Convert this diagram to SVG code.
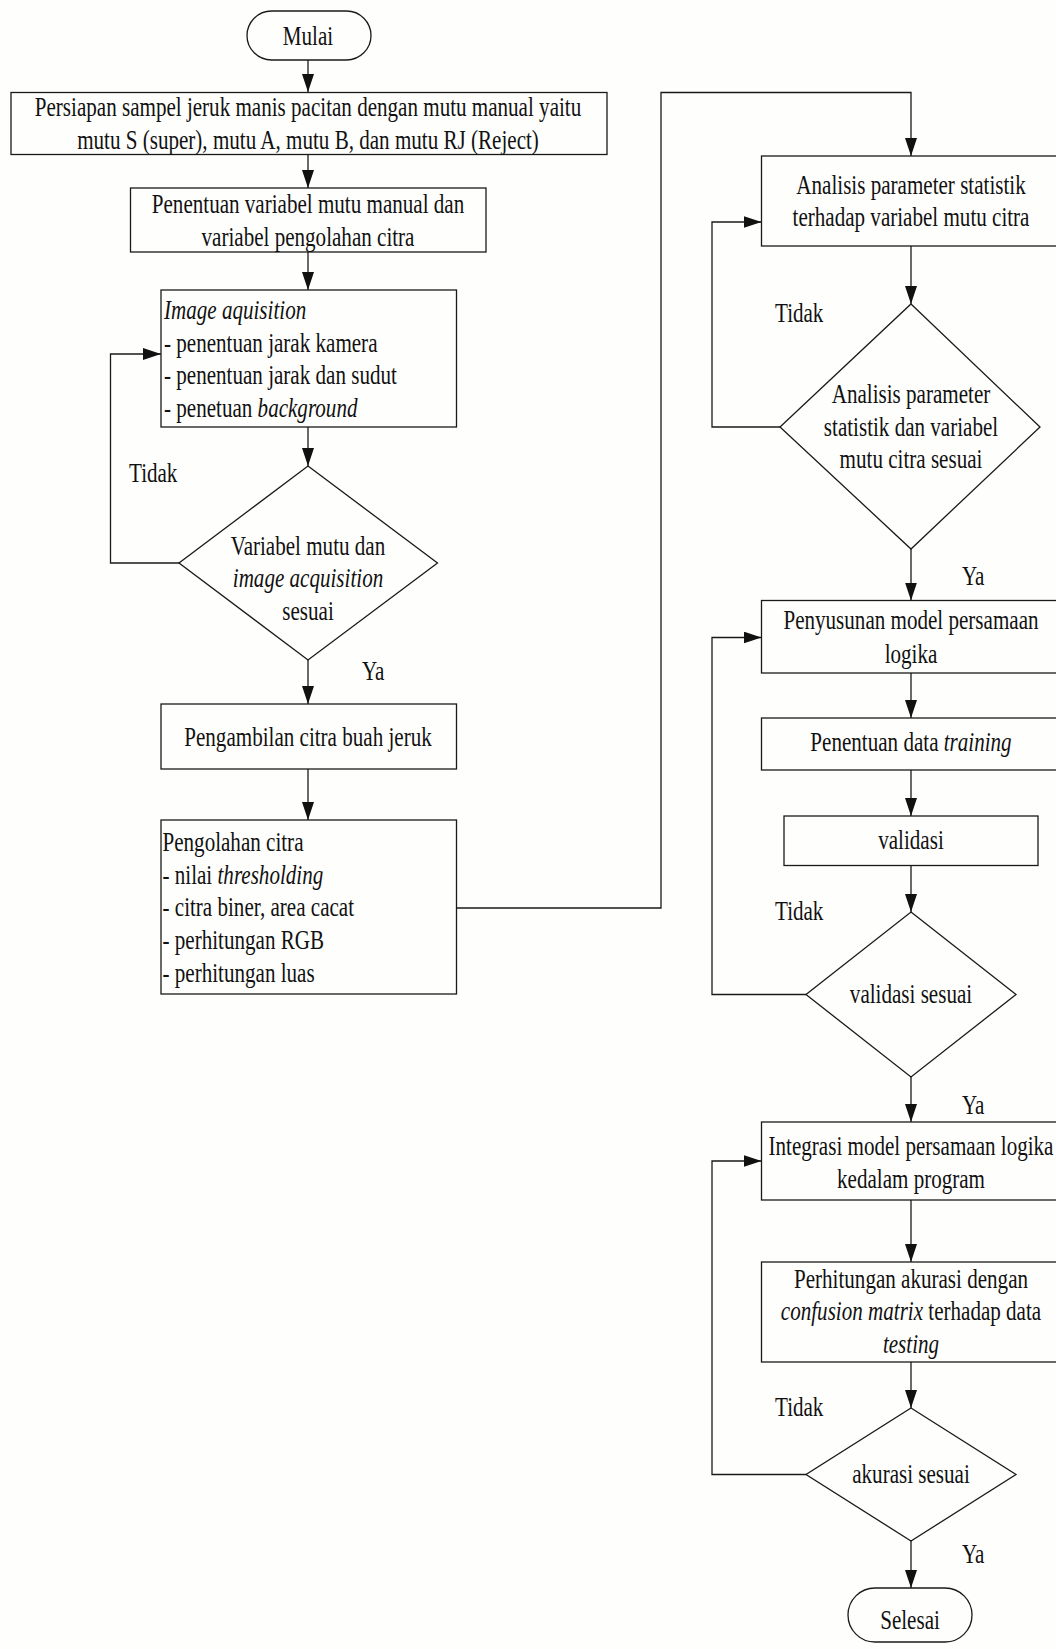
<svg xmlns="http://www.w3.org/2000/svg" width="1056" height="1649" viewBox="0 0 1056 1649">
<style>
.s{fill:none;stroke:#1a1a1a;stroke-width:1.3}
.c{fill:none;stroke:#1a1a1a;stroke-width:1.3}
.t{font-family:"Liberation Serif","Times New Roman",serif;font-size:28px;fill:#111}
.m{text-anchor:middle}
.i{font-style:italic}
</style>
<defs>
<marker id="ahv" markerWidth="18" markerHeight="12" viewBox="0 0 18 12" refX="18" refY="6" orient="auto" markerUnits="userSpaceOnUse">
<path d="M0,0 L18,6 L0,12 Z" fill="#111"/>
</marker>
</defs>
<rect x="0" y="0" width="1056" height="1649" fill="#fefefc"/>

<g id="connectors">
<path class="c" d="M308,60 V92" marker-end="url(#ahv)"/>
<path class="c" d="M308,155 V188" marker-end="url(#ahv)"/>
<path class="c" d="M308,252 V290" marker-end="url(#ahv)"/>
<path class="c" d="M308,427 V466" marker-end="url(#ahv)"/>
<path class="c" d="M179,563 H110.5 V354 H161" marker-end="url(#ahv)"/>
<path class="c" d="M308,660 V704" marker-end="url(#ahv)"/>
<path class="c" d="M308,769 V820" marker-end="url(#ahv)"/>
<path class="c" d="M456.5,908 H661 V92.5 H911 V156" marker-end="url(#ahv)"/>
<path class="c" d="M911,246 V304" marker-end="url(#ahv)"/>
<path class="c" d="M780,427 H712 V222 H761.5" marker-end="url(#ahv)"/>
<path class="c" d="M911,549 V600.5" marker-end="url(#ahv)"/>
<path class="c" d="M911,673 V718" marker-end="url(#ahv)"/>
<path class="c" d="M911,770 V816" marker-end="url(#ahv)"/>
<path class="c" d="M911,865.5 V912" marker-end="url(#ahv)"/>
<path class="c" d="M806,994.5 H712 V637.5 H761.5" marker-end="url(#ahv)"/>
<path class="c" d="M911,1077 V1122" marker-end="url(#ahv)"/>
<path class="c" d="M911,1200 V1262" marker-end="url(#ahv)"/>
<path class="c" d="M911,1362 V1408" marker-end="url(#ahv)"/>
<path class="c" d="M806,1474.5 H712 V1161 H761.5" marker-end="url(#ahv)"/>
<path class="c" d="M911,1541 V1588" marker-end="url(#ahv)"/>
</g>

<g id="labels">
<g transform="translate(129 0) scale(0.753 1)"><text class="t" x="0" y="482">Tidak</text></g>
<g transform="translate(362 0) scale(0.753 1)"><text class="t" x="0" y="680">Ya</text></g>
<g transform="translate(775 0) scale(0.753 1)"><text class="t" x="0" y="322">Tidak</text></g>
<g transform="translate(962 0) scale(0.753 1)"><text class="t" x="0" y="585">Ya</text></g>
<g transform="translate(775 0) scale(0.753 1)"><text class="t" x="0" y="920">Tidak</text></g>
<g transform="translate(962 0) scale(0.753 1)"><text class="t" x="0" y="1114">Ya</text></g>
<g transform="translate(775 0) scale(0.753 1)"><text class="t" x="0" y="1416">Tidak</text></g>
<g transform="translate(962 0) scale(0.753 1)"><text class="t" x="0" y="1563">Ya</text></g>
</g>

<g id="mulai">
<rect class="s" x="247" y="11" width="124" height="49" rx="24.5"/>
<g transform="translate(308 0) scale(0.753 1)"><text class="t m" x="0" y="45">Mulai</text></g>
</g>

<g id="persiapan">
<rect class="s" x="11" y="92.5" width="596" height="62"/>
<g transform="translate(308 0) scale(0.753 1)">
<text class="t m" x="0" y="116">Persiapan sampel jeruk manis pacitan dengan mutu manual yaitu</text>
<text class="t m" x="0" y="149">mutu S (super), mutu A, mutu B, dan mutu RJ (Reject)</text>
</g>
</g>

<g id="penentuan-variabel">
<rect class="s" x="130.5" y="188" width="355.5" height="64"/>
<g transform="translate(308 0) scale(0.753 1)">
<text class="t m" x="0" y="213">Penentuan variabel mutu manual dan</text>
<text class="t m" x="0" y="246.5">variabel pengolahan citra</text>
</g>
</g>

<g id="image-aquisition">
<rect class="s" x="161" y="290" width="295.5" height="137"/>
<g transform="translate(164 0) scale(0.753 1)">
<text class="t i" x="0" y="319">Image aquisition</text>
<text class="t" x="0" y="352">- penentuan jarak kamera</text>
<text class="t" x="0" y="384.5">- penentuan jarak dan sudut</text>
<text class="t" x="0" y="417"><tspan>- penetuan </tspan><tspan class="i">background</tspan></text>
</g>
</g>

<g id="decision-1">
<polygon class="s" points="308,466 437.5,563 308,660 179,563"/>
<g transform="translate(308 0) scale(0.753 1)">
<text class="t m" x="0" y="555">Variabel mutu dan</text>
<text class="t m i" x="0" y="587.5">image acquisition</text>
<text class="t m" x="0" y="620">sesuai</text>
</g>
</g>

<g id="pengambilan">
<rect class="s" x="161" y="704" width="295.5" height="65"/>
<g transform="translate(308 0) scale(0.753 1)"><text class="t m" x="0" y="746">Pengambilan citra buah jeruk</text></g>
</g>

<g id="pengolahan">
<rect class="s" x="161" y="820" width="295.5" height="174"/>
<g transform="translate(162.5 0) scale(0.753 1)">
<text class="t" x="0" y="851.5">Pengolahan citra</text>
<text class="t" x="0" y="884"><tspan>- nilai </tspan><tspan class="i">thresholding</tspan></text>
<text class="t" x="0" y="916.5">- citra biner, area cacat</text>
<text class="t" x="0" y="949">- perhitungan RGB</text>
<text class="t" x="0" y="982">- perhitungan luas</text>
</g>
</g>

<g id="analisis">
<rect class="s" x="761.5" y="156" width="300" height="90"/>
<g transform="translate(911 0) scale(0.753 1)">
<text class="t m" x="0" y="194">Analisis parameter statistik</text>
<text class="t m" x="0" y="226.5">terhadap variabel mutu citra</text>
</g>
</g>

<g id="decision-2">
<polygon class="s" points="911,304 1040,427 911,549 780,427"/>
<g transform="translate(911 0) scale(0.753 1)">
<text class="t m" x="0" y="403.5">Analisis parameter</text>
<text class="t m" x="0" y="436">statistik dan variabel</text>
<text class="t m" x="0" y="468.5">mutu citra sesuai</text>
</g>
</g>

<g id="penyusunan">
<rect class="s" x="761.5" y="600.5" width="300" height="72.5"/>
<g transform="translate(911 0) scale(0.753 1)">
<text class="t m" x="0" y="629.5">Penyusunan model persamaan</text>
<text class="t m" x="0" y="663">logika</text>
</g>
</g>

<g id="training">
<rect class="s" x="761.5" y="718" width="300" height="52"/>
<g transform="translate(911 0) scale(0.753 1)">
<text class="t m" x="0" y="751.5"><tspan>Penentuan data </tspan><tspan class="i">training</tspan></text>
</g>
</g>

<g id="validasi">
<rect class="s" x="784" y="816" width="254" height="49.5"/>
<g transform="translate(911 0) scale(0.753 1)"><text class="t m" x="0" y="849.5">validasi</text></g>
</g>

<g id="decision-3">
<polygon class="s" points="911,912 1016,994.5 911,1077 806,994.5"/>
<g transform="translate(911 0) scale(0.753 1)"><text class="t m" x="0" y="1003.5">validasi sesuai</text></g>
</g>

<g id="integrasi">
<rect class="s" x="761.5" y="1122" width="300" height="78"/>
<g transform="translate(911 0) scale(0.753 1)">
<text class="t m" x="0" y="1155.5">Integrasi model persamaan logika</text>
<text class="t m" x="0" y="1188">kedalam program</text>
</g>
</g>

<g id="akurasi">
<rect class="s" x="761.5" y="1262" width="300" height="100"/>
<g transform="translate(911 0) scale(0.753 1)">
<text class="t m" x="0" y="1288">Perhitungan akurasi dengan</text>
<text class="t m" x="0" y="1320.5"><tspan class="i">confusion matrix</tspan><tspan> terhadap data</tspan></text>
<text class="t m i" x="0" y="1353">testing</text>
</g>
</g>

<g id="decision-4">
<polygon class="s" points="911,1408 1016,1474.5 911,1541 806,1474.5"/>
<g transform="translate(911 0) scale(0.753 1)"><text class="t m" x="0" y="1483.5">akurasi sesuai</text></g>
</g>

<g id="selesai">
<rect class="s" x="848" y="1588" width="124" height="54" rx="27"/>
<g transform="translate(910 0) scale(0.753 1)"><text class="t m" x="0" y="1629">Selesai</text></g>
</g>
</svg>
